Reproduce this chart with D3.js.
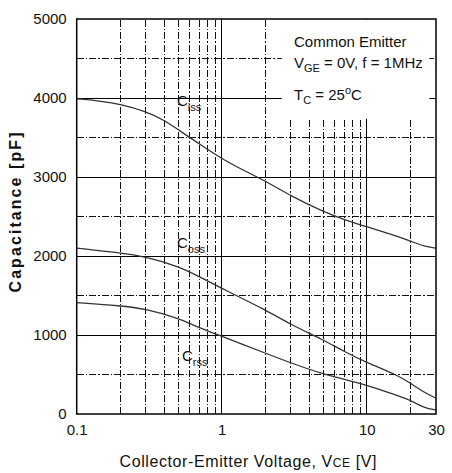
<!DOCTYPE html>
<html>
<head>
<meta charset="utf-8">
<script src="https://cdn.jsdelivr.net/npm/d3@7"></script>
<style>
  body { margin: 0; background: #fff; }
  text { font-family: Arial, "Liberation Sans", sans-serif; fill: #111; }
</style>
</head>
<body>
<div id="chart"></div>
<script>
// Curve data: [Vce (V), capacitance (pF)]
const ciss = [[0.1, 3990], [0.15, 3960], [0.2, 3920], [0.3, 3830], [0.4, 3720], [0.5, 3600], [0.6, 3500],
    [0.8, 3350], [1, 3230], [1.5, 3060], [2, 2950], [3, 2760], [5, 2560], [7, 2460], [10, 2370],
    [15, 2270], [20, 2190], [25, 2120], [30, 2100]];
const coss = [[0.1, 2100], [0.2, 2040], [0.3, 1990], [0.5, 1870], [0.7, 1740], [1, 1590],
    [2, 1320], [3, 1130], [5, 940], [7, 790], [10, 650], [16, 500], [20, 390],
    [25, 270], [30, 200]];
const crss = [[0.1, 1410], [0.2, 1370], [0.3, 1330], [0.5, 1215], [0.7, 1090], [1, 985],
    [2, 770], [3, 645], [5, 505], [7, 440], [10, 365], [15, 255], [20, 175], [25, 75], [30, 50]];

const xTicks = [0.1, 1, 10, 30];
const yTicks = [0, 1000, 2000, 3000, 4000, 5000];
const xMajorGrid = [1, 10];
const xMinorGrid = [0.2, 0.3, 0.4, 0.5, 0.6, 0.7, 0.8, 0.9, 2, 3, 4, 5, 6, 7, 8, 9, 20];
const yMajorGrid = [1000, 2000, 3000, 4000];
const yMinorGrid = [500, 1500, 2500, 3500, 4500];

const width = 452, height = 473;
const margin = { top: 19, right: 16, bottom: 59, left: 76.7 };

const svg = d3.select("#chart").append("svg").attr("width", width).attr("height", height);

const x = d3.scaleLog().domain([0.1, 30]).range([margin.left, width - margin.right]);
const y = d3.scaleLinear().domain([0, 5000]).range([height - margin.bottom, margin.top]);

const dashDot = "7,2,1.5,2";

// grid lines
const grid = svg.append("g").attr("shape-rendering", "crispEdges");
grid.append("g").selectAll("line").data(yMinorGrid).enter().append("line")
    .attr("x1", x(0.1)).attr("x2", x(30))
    .attr("y1", d => y(d)).attr("y2", d => y(d))
    .attr("stroke", "#111").attr("stroke-dasharray", dashDot);
grid.append("g").selectAll("line").data(yMajorGrid).enter().append("line")
    .attr("x1", x(0.1)).attr("x2", x(30))
    .attr("y1", d => y(d)).attr("y2", d => y(d))
    .attr("stroke", "#000");
grid.append("g").selectAll("line").data(xMinorGrid).enter().append("line")
    .attr("x1", d => x(d)).attr("x2", d => x(d))
    .attr("y1", y(0)).attr("y2", y(5000))
    .attr("stroke", "#111").attr("stroke-dasharray", dashDot);
grid.append("g").selectAll("line").data(xMajorGrid).enter().append("line")
    .attr("x1", d => x(d)).attr("x2", d => x(d))
    .attr("y1", y(0)).attr("y2", y(5000))
    .attr("stroke", "#000");

// white panel behind the test conditions
svg.append("rect")
    .attr("x", x(2.6)).attr("y", y(5000) + 1)
    .attr("width", x(27) - x(2.6)).attr("height", y(3750) - y(5000))
    .attr("fill", "#fff");

// curves
const line = d3.line()
    .x(d => x(d[0]))
    .y(d => y(d[1]))
    .curve(d3.curveBasis);

[ciss, coss, crss].forEach(series => {
    svg.append("path")
        .datum(series)
        .attr("fill", "none")
        .attr("stroke", "#333")
        .attr("stroke-width", 1.3)
        .attr("d", line);
});

// frame
svg.append("rect")
    .attr("x", x(0.1)).attr("y", y(5000))
    .attr("width", x(30) - x(0.1)).attr("height", y(0) - y(5000))
    .attr("fill", "none").attr("stroke", "#000").attr("stroke-width", 1.5);

// axes (labels only, the frame is drawn above)
const xAxis = svg.append("g").attr("transform", `translate(0, ${y(0)})`)
    .call(d3.axisBottom(x).tickValues(xTicks).tickFormat(d3.format("")).tickSize(0).tickPadding(10));
const yAxis = svg.append("g").attr("transform", `translate(${x(0.1)}, 0)`)
    .call(d3.axisLeft(y).tickValues(yTicks).tickFormat(d3.format("d")).tickSize(0).tickPadding(10));
[xAxis, yAxis].forEach(g => {
    g.select(".domain").remove();
    g.selectAll("text").attr("font-size", 15).attr("font-family", "Arial, 'Liberation Sans', sans-serif").attr("fill", "#111");
});

// axis titles
const xTitle = svg.append("text")
    .attr("x", 248).attr("y", 467)
    .attr("text-anchor", "middle")
    .attr("font-size", 16)
    .attr("textLength", 257)
    .attr("lengthAdjust", "spacing");
xTitle.append("tspan").text("Collector-Emitter Voltage, V");
xTitle.append("tspan").attr("font-size", 12).text("CE");
xTitle.append("tspan").text(" [V]");

svg.append("text")
    .attr("transform", `translate(21, ${212.5}) rotate(-90)`)
    .attr("text-anchor", "middle")
    .attr("font-size", 16)
    .attr("font-weight", "bold")
    .attr("textLength", 160)
    .attr("lengthAdjust", "spacing")
    .text("Capacitance [pF]");

// curve labels
function capLabel(px, py, sub) {
    const t = svg.append("text").attr("x", px).attr("y", py).attr("font-size", 15);
    t.append("tspan").text("C");
    t.append("tspan").attr("font-size", 11).attr("dy", 5).text(sub);
}
capLabel(177, 106, "iss");
capLabel(177, 248, "oss");
capLabel(182, 361, "rss");

// test conditions
svg.append("text").attr("x", 294).attr("y", 47).attr("font-size", 15).text("Common Emitter");
const cond = svg.append("text").attr("x", 294).attr("y", 68).attr("font-size", 15);
cond.append("tspan").text("V");
cond.append("tspan").attr("font-size", 11).attr("dy", 4).text("GE");
cond.append("tspan").attr("dy", -4).text(" = 0V, f = 1MHz");
const temp = svg.append("text").attr("x", 294).attr("y", 100).attr("font-size", 15);
temp.append("tspan").text("T");
temp.append("tspan").attr("font-size", 11).attr("dy", 4).text("C");
temp.append("tspan").attr("dy", -4).text(" = 25");
temp.append("tspan").attr("font-size", 11).attr("dy", -6).text("o");
temp.append("tspan").attr("dy", 6).text("C");
</script>
</body>
</html>
